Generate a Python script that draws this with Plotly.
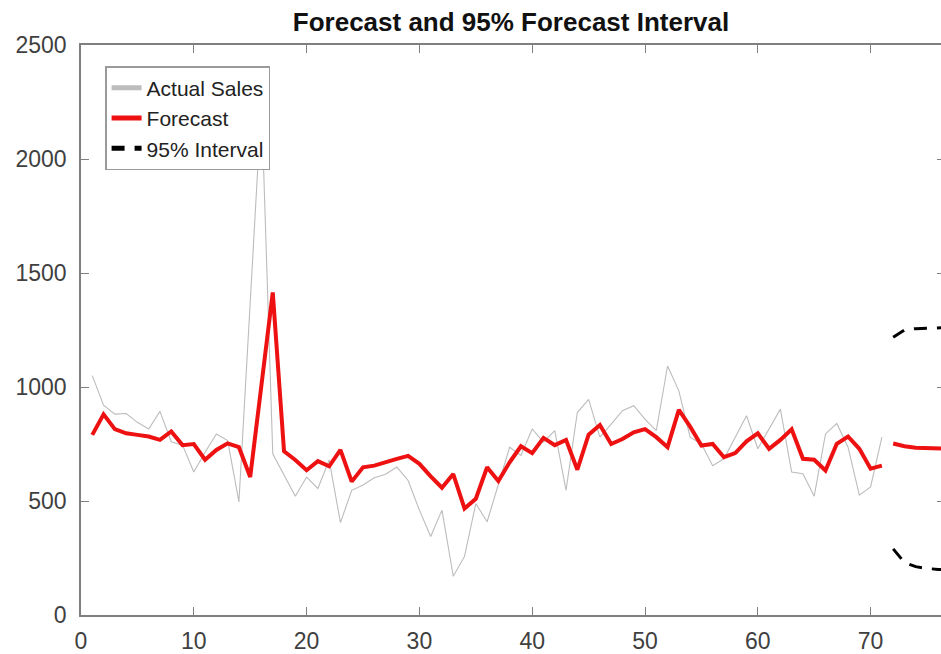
import plotly.graph_objects as go

# ---- data ----
t_hist = list(range(1, 72))
actual_sales = [1050, 920, 881, 884, 845, 816, 893, 760, 745, 627,
                714, 794, 765, 496, 1370, 2250, 707, 615, 521, 605,
                555, 680, 405, 547, 570, 602, 617, 649, 590, 460,
                344, 460, 170, 257, 489, 409, 576, 736, 700, 816,
                758, 809, 547, 888, 946, 780, 837, 896, 918, 859,
                809, 1092, 983, 780, 750, 655, 685, 780, 874, 729,
                816, 903, 627, 620, 521, 794, 840, 736, 526, 562,
                780]
fitted = [790, 880, 815, 797, 790, 783, 768, 805, 745, 750,
          681, 724, 753, 736, 605, 1010, 1415, 718, 680, 635,
          675, 652, 724, 585, 648, 655, 672, 685, 698, 663,
          608, 558, 618, 467, 510, 648, 588, 670, 740, 710,
          777, 745, 768, 637, 791, 833, 750, 772, 801, 815,
          780, 736, 900, 826, 743, 750, 692, 710, 762, 797,
          729, 768, 815, 685, 681, 634, 751, 783, 729, 642,
          655]
t_fc = [72, 73, 74, 75, 76, 77]
forecast = [752, 740, 734, 731, 730, 729]
upper = [1218, 1250, 1256, 1258, 1260, 1261]
lower = [290, 230, 212, 204, 200, 198]

y_ticks = [0, 500, 1000, 1500, 2000, 2500]
x_ticks = [0, 10, 20, 30, 40, 50, 60, 70]

FONT = "Liberation Sans, Arial, sans-serif"
AX = "#7f7f7f"
TXT = "#404040"

fig = go.Figure()
fig.add_trace(go.Scatter(x=t_hist, y=actual_sales, mode="lines", name="Actual Sales",
                         line=dict(color="#bcbcbc", width=1.1)))
fig.add_trace(go.Scatter(x=t_hist, y=fitted, mode="lines", name="Forecast",
                         line=dict(color="#ee1111", width=4)))
fig.add_trace(go.Scatter(x=t_fc, y=forecast, mode="lines", name="Forecast",
                         showlegend=False, line=dict(color="#ee1111", width=4)))
fig.add_trace(go.Scatter(x=t_fc, y=upper, mode="lines", name="95% Interval",
                         line=dict(color="black", width=3, dash="13px,10px")))
fig.add_trace(go.Scatter(x=t_fc, y=lower, mode="lines", name="95% Interval",
                         showlegend=False, yaxis="y2",
                         line=dict(color="black", width=3, dash="13px,10px")))

fig.update_layout(
    width=941, height=654,
    margin=dict(l=81, r=0, t=45, b=35),
    paper_bgcolor="white", plot_bgcolor="white",
    font=dict(family=FONT, color=TXT, size=23),
    title=dict(text="<b>Forecast and 95% Forecast Interval</b>",
               xref="paper", x=0.5, xanchor="center",
               yref="container", y=0.966, yanchor="middle",
               font=dict(family=FONT, size=26, color="#111111")),
    showlegend=True,
    legend=dict(x=0.028, y=0.963, xanchor="left", yanchor="top",
                bgcolor="white", bordercolor="#9a9a9a", borderwidth=1.5,
                font=dict(family=FONT, size=21, color="#222222"),
                tracegroupgap=0, itemsizing="constant"),
    xaxis=dict(range=[0, 76.24], tickvals=x_ticks, ticks="inside", ticklen=8,
               tickcolor=AX, tickwidth=1.2, showline=True, linecolor=AX, linewidth=1.5,
               mirror="ticks", showgrid=False, zeroline=False,
               ticklabelstandoff=5, tickfont=dict(size=23, color=TXT)),
    yaxis=dict(range=[0, 2500], tickvals=y_ticks, ticks="inside", ticklen=8,
               tickcolor=AX, tickwidth=1.2, showline=True, linecolor=AX, linewidth=1.5,
               showgrid=False, zeroline=False,
               ticklabelstandoff=8, tickfont=dict(size=23, color=TXT)),
    yaxis2=dict(range=[0, 2500], tickvals=y_ticks, overlaying="y", side="right",
                anchor="x", ticks="inside", ticklen=4, tickcolor=AX, tickwidth=1.2,
                showline=False, showgrid=False, zeroline=False, showticklabels=False),
)

fig.write_html("out.html",
               config={"displayModeBar": False},
               post_script="document.body.style.margin='0';"
                           "document.body.style.overflow='hidden';")
